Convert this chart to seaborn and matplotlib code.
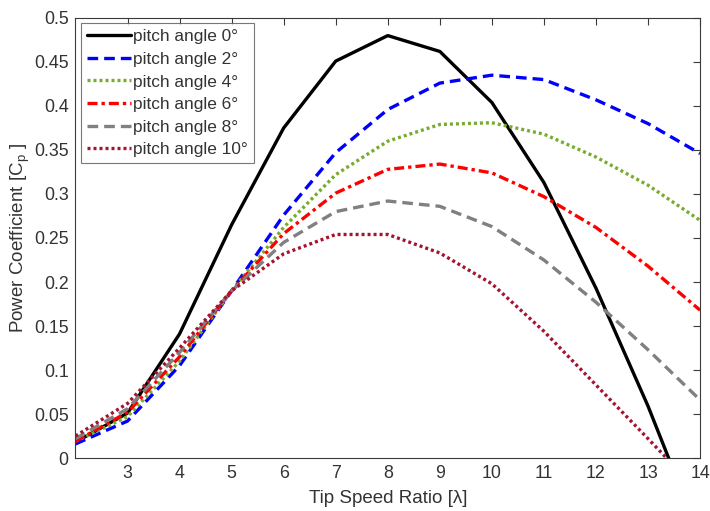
import numpy as np
import pandas as pd
import matplotlib
matplotlib.use('Agg')
import matplotlib.pyplot as plt
import seaborn as sns

# Tip speed ratio samples
tsr = [2, 3, 4, 5, 6, 7, 8, 9, 10, 11, 12, 13, 14]

# Power coefficient per pitch angle
cp_0 = [0.018, 0.051, 0.141, 0.265, 0.375, 0.451, 0.480, 0.462, 0.404, 0.313, 0.193, 0.059, -0.090]
cp_2 = [0.016, 0.042, 0.105, 0.190, 0.276, 0.347, 0.396, 0.426, 0.435, 0.430, 0.407, 0.380, 0.346]
cp_4 = [0.019, 0.047, 0.110, 0.190, 0.262, 0.322, 0.360, 0.379, 0.381, 0.368, 0.342, 0.310, 0.270]
cp_6 = [0.019, 0.052, 0.115, 0.190, 0.255, 0.301, 0.328, 0.334, 0.324, 0.297, 0.262, 0.218, 0.168]
cp_8 = [0.022, 0.056, 0.120, 0.190, 0.245, 0.280, 0.292, 0.286, 0.263, 0.225, 0.177, 0.123, 0.066]
cp_10 = [0.025, 0.062, 0.125, 0.190, 0.232, 0.254, 0.254, 0.233, 0.198, 0.144, 0.083, 0.022, -0.040]

labels = ['pitch angle 0°', 'pitch angle 2°', 'pitch angle 4°',
          'pitch angle 6°', 'pitch angle 8°', 'pitch angle 10°']
series = [cp_0, cp_2, cp_4, cp_6, cp_8, cp_10]

colors = ['#000000', '#0000FF', '#77AC30', '#FF0000', '#808080', '#A2142F']
dash_styles = ['', (3.2, 1.8), (0.9, 0.9), (3.0, 1.2, 1.0, 1.2), (3.2, 1.8), (0.9, 0.9)]

df = pd.concat([pd.DataFrame({'tsr': tsr, 'cp': s, 'pitch': lab})
                for s, lab in zip(series, labels)], ignore_index=True)

sns.set_style('white')
plt.rcParams['font.family'] = ['Liberation Sans', 'DejaVu Sans']
plt.rcParams['mathtext.fontset'] = 'custom'
plt.rcParams['mathtext.rm'] = 'Liberation Sans'
plt.rcParams['mathtext.it'] = 'Liberation Sans'
plt.rcParams['mathtext.sf'] = 'Liberation Sans'
plt.rcParams['xtick.direction'] = 'in'
plt.rcParams['ytick.direction'] = 'in'

fig = plt.figure(figsize=(7.1, 5.11), dpi=100)
ax = fig.add_axes([0.1063, 0.1037, 0.8797, 0.8611])

sns.lineplot(data=df, x='tsr', y='cp', hue='pitch', style='pitch',
             palette=dict(zip(labels, colors)),
             dashes=dict(zip(labels, dash_styles)),
             linewidth=2.4, ax=ax)

ax.set_xlim(2, 14)
ax.set_ylim(0, 0.5)
ax.set_xticks(range(3, 15))
ax.set_yticks(np.arange(0, 0.501, 0.05))
ax.set_yticklabels(['0', '0.05', '0.1', '0.15', '0.2', '0.25', '0.3',
                    '0.35', '0.4', '0.45', '0.5'])

axis_col = '#333333'
for side in ax.spines.values():
    side.set_visible(True)
    side.set_color('#3a3a3a')
    side.set_linewidth(0.8)
ax.tick_params(axis='both', which='both', direction='in', top=True, right=True,
               length=5, width=0.8, color='#3a3a3a', labelsize=12.8,
               labelcolor=axis_col, pad=5)

ax.set_xlabel('Tip Speed Ratio [λ]', fontsize=13.5, color=axis_col, labelpad=6)
ax.set_ylabel(r'Power Coefficient [C$_\mathrm{p}$ ]', fontsize=13.5,
              color=axis_col)
ax.yaxis.set_label_coords(-0.069, 0.5)

handles, labs = ax.get_legend_handles_labels()
leg = ax.legend(handles, labs, loc='upper left', fontsize=12.4,
                frameon=True, fancybox=False, edgecolor='#555555',
                handlelength=2.6, handletextpad=0.1, labelspacing=0.44,
                borderpad=0.35, borderaxespad=0.3)
leg.get_frame().set_linewidth(0.8)
for t in leg.get_texts():
    t.set_color(axis_col)

fig.savefig('out.png', dpi=100)
